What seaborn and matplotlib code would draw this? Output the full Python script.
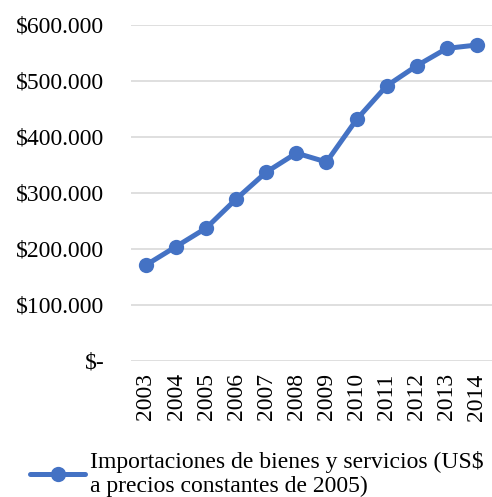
import matplotlib
matplotlib.use("Agg")
import matplotlib.pyplot as plt
import seaborn as sns
import pandas as pd

years = ["2003", "2004", "2005", "2006", "2007", "2008",
         "2009", "2010", "2011", "2012", "2013", "2014"]
imports = [171000, 204000, 237000, 289000, 337000, 371000,
           355000, 431000, 491000, 527000, 558000, 564000]
yticks = [0, 100000, 200000, 300000, 400000, 500000, 600000]
ylabels = ["$-", "$100.000", "$200.000", "$300.000", "$400.000", "$500.000", "$600.000"]
series_name = "Importaciones de bienes y servicios (US$\na precios constantes de 2005)"

df = pd.DataFrame({"year": years, "value": imports})

sns.set_style("white")
plt.rcParams["font.family"] = ["Liberation Serif", "DejaVu Serif"]
plt.rcParams["text.color"] = "black"
plt.rcParams["xtick.color"] = "black"
plt.rcParams["ytick.color"] = "black"

fig = plt.figure(figsize=(4.92, 4.97), dpi=100)
ax = fig.add_axes([0.266, 0.274, 0.734, 0.676])

sns.lineplot(data=df, x="year", y="value", ax=ax, color="#4472C4",
             linewidth=3.6, marker="o", markersize=11, markeredgewidth=0,
             label=series_name, sort=False)

ax.set_xlim(-0.5, len(years) - 0.5)
ax.set_ylim(0, 600000)
ax.set_yticks(yticks)
ax.set_yticklabels(ylabels)
ax.yaxis.grid(True, color="#d9d9d9", linewidth=1.2)
ax.set_axisbelow(True)
for s in ax.spines.values():
    s.set_visible(False)
ax.tick_params(axis="y", length=0, pad=19, labelsize=17)
ax.tick_params(axis="x", length=0, pad=9, labelsize=17, rotation=90)
ax.set_xlabel("")
ax.set_ylabel("")

# legend below the axes, as in the reference
ax.get_legend().remove()
h, l = ax.get_legend_handles_labels()
fig.legend(h, l, loc="upper left", bbox_to_anchor=(0.061, 0.093), frameon=False,
           fontsize=17, handlelength=2.33, handletextpad=0.2,
           borderaxespad=0, borderpad=0, labelspacing=0)

fig.savefig("out.png", dpi=100)
